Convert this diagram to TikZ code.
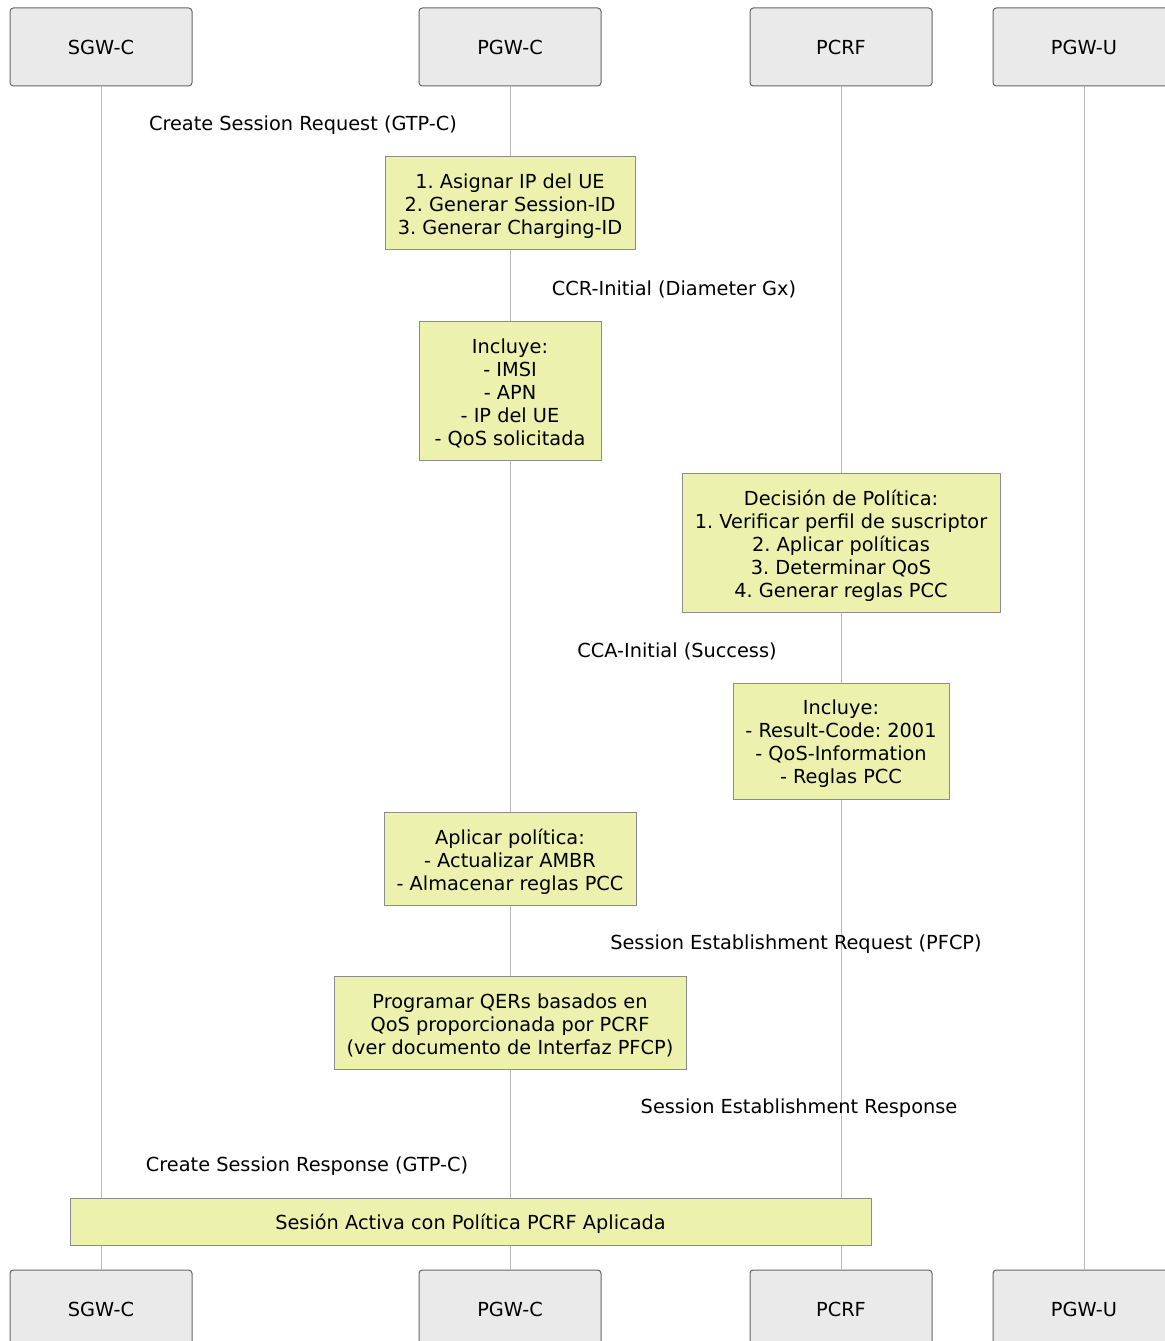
\documentclass[tikz,border=0pt]{standalone}
\usepackage{fontspec}
\setmainfont{DejaVu Sans}
\frenchspacing
\definecolor{notefill}{RGB}{236,242,174}
\definecolor{notedraw}{RGB}{140,140,140}
\definecolor{actfill}{RGB}{234,234,234}
\definecolor{actdraw}{RGB}{102,102,102}
\definecolor{lifecol}{RGB}{185,185,185}
\begin{document}
\begin{tikzpicture}[x=0.75pt,y=-0.75pt,
  every node/.style={font=\fontsize{14.5}{17.25}\selectfont\frenchspacing, text=black},
  actor/.style={draw=actdraw, fill=actfill, rounded corners=2.5pt, minimum width=136.5pt, minimum height=58.5pt, inner sep=0pt, line width=0.75pt},
  note/.style={draw=notedraw, fill=notefill, inner sep=0pt, line width=0.75pt},
  notetext/.style={align=center, inner sep=0pt},
  msg/.style={inner sep=0pt},
  life/.style={draw=lifecol, line width=0.75pt}]
\useasboundingbox (0,0) rectangle (1164,1341);
% actors top
\node[actor] (sgwT) at (101,47) {SGW-C};
\node[actor] (pgwcT) at (510,47) {PGW-C};
\node[actor] (pcrfT) at (841,47) {PCRF};
\node[actor] (pgwuT) at (1084,47) {PGW-U};
% actors bottom
\node[actor] (sgwB) at (101,1309) {SGW-C};
\node[actor] (pgwcB) at (510,1309) {PGW-C};
\node[actor] (pcrfB) at (841,1309) {PCRF};
\node[actor] (pgwuB) at (1084,1309) {PGW-U};
% lifelines
\draw[life] (sgwT.south) -- (sgwB.north);
\draw[life] (pgwcT.south) -- (pgwcB.north);
\draw[life] (pcrfT.south) -- (pcrfB.north);
\draw[life] (pgwuT.south) -- (pgwuB.north);
% messages
\node[msg] (m1) at (303,125) {Create Session Request (GTP-C)};
\node[msg] (m2) at (674,289) {CCR-Initial (Diameter Gx)};
\node[msg] (m3) at (677,651) {CCA-Initial (Success)};
\node[msg] (m4) at (796,944) {Session Establishment Request (PFCP)};
\node[msg] (m5) at (799,1108) {Session Establishment Response};
\node[msg] (m6) at (307,1166) {Create Session Response (GTP-C)};
% notes
\node[note, minimum width=187.5pt, minimum height=69.75pt] (n1) at (510,203.5) {};
\node[notetext] (t1) at ([yshift=-2.25pt]n1.center)
  {1. Asignar IP del UE\\2. Generar Session-ID\\3. Generar Charging-ID};
\node[note, minimum width=136.5pt, minimum height=104.25pt] (n2) at (510,390.5) {};
\node[notetext] (t2) at ([yshift=-2.25pt]n2.center)
  {Incluye:\\- IMSI\\- APN\\- IP del UE\\- QoS solicitada};
\node[note, minimum width=238.5pt, minimum height=104.25pt] (n3) at (841,542.5) {};
\node[notetext] (t3) at ([yshift=-2.25pt]n3.center)
  {Decisión de Política:\\1. Verificar perfil de suscriptor\\2. Aplicar políticas\\3. Determinar QoS\\4. Generar reglas PCC};
\node[note, minimum width=162pt, minimum height=87pt] (n4) at (841,741) {};
\node[notetext] (t4) at ([yshift=-2.25pt]n4.center)
  {Incluye:\\- Result-Code: 2001\\- QoS-Information\\- Reglas PCC};
\node[note, minimum width=189pt, minimum height=69.75pt] (n5) at (510,858.5) {};
\node[notetext] (t5) at ([yshift=-2.25pt]n5.center)
  {Aplicar política:\\- Actualizar AMBR\\- Almacenar reglas PCC};
\node[note, minimum width=264pt, minimum height=69.75pt] (n6) at (510,1022.5) {};
\node[notetext] (t6) at ([yshift=-2.25pt]n6.center)
  {Programar QERs basados en\\QoS proporcionada por PCRF\\(ver documento de Interfaz PFCP)};
\node[note, minimum width=600.75pt, minimum height=35.25pt] (n7) at (470.5,1221.5) {};
\node[notetext] (t7) at ([yshift=-1.5pt]n7.center)
  {Sesión Activa con Política PCRF Aplicada};
\end{tikzpicture}
\end{document}
